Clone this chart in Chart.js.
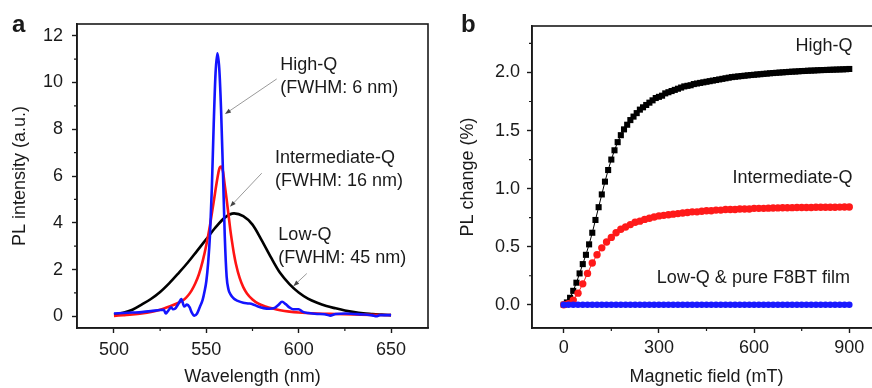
<!DOCTYPE html>
<html>
<head>
<meta charset="utf-8">
<script src="https://cdn.jsdelivr.net/npm/chart.js@4/dist/chart.umd.min.js"></script>
<style>
  html, body { margin: 0; padding: 0; background: #fff; overflow: hidden; width: 872px; height: 388px; }
  canvas { position: absolute; top: 0; }
  #specCanvas { left: 0; }
  #fieldCanvas { left: 440px; }
</style>
</head>
<body>
<canvas id="specCanvas" width="440" height="388"></canvas>
<canvas id="fieldCanvas" width="460" height="388"></canvas>
<script>
// ---- panel a : PL spectra ----
const lowQWl = [500, 505, 510, 515, 520, 525, 530, 535, 540, 545, 550, 555, 560, 565, 570, 575,
  580, 585, 590, 595, 600, 605, 610, 615, 620, 625, 630, 635, 640, 645, 650];
const lowQ = [0.08, 0.15, 0.28, 0.50, 0.74, 1.04, 1.42, 1.85, 2.30, 2.80, 3.30, 3.80, 4.22, 4.40, 4.28, 3.92,
  3.25, 2.52, 1.85, 1.38, 1.02, 0.76, 0.58, 0.44, 0.34, 0.25, 0.18, 0.13, 0.10, 0.07, 0.05];

const interQWl = [500, 505, 510, 515, 520, 525, 530, 535, 538, 540, 542, 544, 546, 548, 550, 552, 554, 556, 557,
  558, 559, 560, 561, 562, 563, 564, 565, 566, 568, 570, 572, 575, 578, 582, 586, 590, 595, 600, 610,
  620, 630, 640, 650];
const interQ = [0.02, 0.05, 0.08, 0.12, 0.18, 0.28, 0.42, 0.58, 0.72, 0.88, 1.10, 1.40, 1.80, 2.35, 3.05, 3.90, 4.90, 5.90, 6.30,
  6.40, 6.20, 5.60, 5.00, 4.35, 3.70, 3.15, 2.65, 2.25, 1.65, 1.25, 0.98, 0.72, 0.55, 0.42, 0.33, 0.26, 0.20, 0.16, 0.12,
  0.10, 0.08, 0.06, 0.05];

const highQWl = [500, 505, 510, 515, 520, 525, 527, 528, 529, 531, 532, 533, 535, 536.5, 538, 539.5, 541, 542, 543.5,
  545, 546.5, 548, 549, 550, 551, 552, 553, 554, 555, 556, 557, 558, 559, 560, 561, 562, 563, 565, 567, 570,
  573, 575, 578, 581, 584, 587, 589, 591, 593, 595, 597, 600, 602, 605, 610, 614, 617, 620, 625, 630, 635,
  640, 642, 644, 650];
const highQ = [0.12, 0.14, 0.16, 0.18, 0.22, 0.27, 0.28, 0.12, 0.20, 0.38, 0.30, 0.32, 0.55, 0.74, 0.42, 0.50, 0.38, 0.18, 0.03,
  0.12, 0.40, 0.70, 1.05, 1.50, 2.30, 3.50, 5.50, 8.20, 10.40, 11.25, 10.60, 8.80, 6.20, 3.40, 1.70, 1.15, 0.95, 0.75, 0.66, 0.58,
  0.55, 0.52, 0.42, 0.35, 0.32, 0.36, 0.48, 0.62, 0.52, 0.38, 0.30, 0.30, 0.20, 0.14, 0.10, 0.09, 0.03, 0.10, 0.12, 0.10, 0.08,
  0.04, 0.00, 0.05, 0.05];

const specXTicks = [500, 550, 600, 650];
const specXMinor = [525, 575, 625];
const specYTicks = [0, 2, 4, 6, 8, 10, 12];
const specYMinor = [1, 3, 5, 7, 9, 11];

// ---- panel b : magnetic field effect ----
const fieldHigh = [0, 10, 20, 30, 40, 50, 60, 70, 80, 90, 100, 110, 120, 130, 140, 150, 160, 170, 180, 190,
  200, 210, 220, 230, 240, 250, 260, 270, 280, 290, 300, 310, 320, 330, 340, 350, 360, 370, 380, 390,
  400, 410, 420, 430, 440, 450, 460, 470, 480, 490, 500, 510, 520, 530, 540, 550, 560, 570, 580, 590,
  600, 610, 620, 630, 640, 650, 660, 670, 680, 690, 700, 710, 720, 730, 740, 750, 760, 770, 780, 790,
  800, 810, 820, 830, 840, 850, 860, 870, 880, 890, 900];
const changeHigh = [0.00, 0.02, 0.06, 0.12, 0.19, 0.27, 0.35, 0.43, 0.52, 0.62, 0.73, 0.84, 0.95, 1.06, 1.16, 1.25, 1.33, 1.40, 1.46, 1.51,
  1.55, 1.59, 1.62, 1.65, 1.68, 1.70, 1.72, 1.74, 1.76, 1.78, 1.79, 1.80, 1.82, 1.83, 1.84, 1.85, 1.86, 1.87, 1.88, 1.885,
  1.89, 1.90, 1.905, 1.91, 1.915, 1.92, 1.925, 1.93, 1.935, 1.94, 1.945, 1.95, 1.955, 1.96, 1.963, 1.966, 1.969, 1.972, 1.975, 1.978,
  1.98, 1.983, 1.985, 1.988, 1.99, 1.993, 1.995, 1.997, 1.999, 2.001, 2.003, 2.005, 2.007, 2.008, 2.01, 2.012, 2.013, 2.015, 2.016, 2.017,
  2.019, 2.02, 2.021, 2.022, 2.023, 2.024, 2.025, 2.026, 2.027, 2.028, 2.03];

const fieldStep15 = [0, 15, 30, 45, 60, 75, 90, 105, 120, 135, 150, 165, 180, 195, 210, 225, 240, 255, 270, 285,
  300, 315, 330, 345, 360, 375, 390, 405, 420, 435, 450, 465, 480, 495, 510, 525, 540, 555, 570, 585,
  600, 615, 630, 645, 660, 675, 690, 705, 720, 735, 750, 765, 780, 795, 810, 825, 840, 855, 870, 885, 900];
const changeInter = [0.00, 0.01, 0.04, 0.10, 0.18, 0.27, 0.36, 0.43, 0.49, 0.54, 0.58, 0.62, 0.65, 0.67, 0.69, 0.71, 0.72, 0.735, 0.745, 0.755,
  0.765, 0.77, 0.775, 0.78, 0.785, 0.79, 0.795, 0.80, 0.80, 0.805, 0.81, 0.81, 0.815, 0.815, 0.82, 0.82, 0.82, 0.825, 0.825, 0.825,
  0.83, 0.83, 0.83, 0.832, 0.833, 0.834, 0.835, 0.835, 0.836, 0.837, 0.837, 0.838, 0.838, 0.839, 0.839, 0.84, 0.84, 0.84, 0.841, 0.842, 0.842];
const changeLow = [0, 0, 0, 0, 0, 0, 0, 0, 0, 0, 0, 0, 0, 0, 0, 0, 0, 0, 0, 0,
  0, 0, 0, 0, 0, 0, 0, 0, 0, 0, 0, 0, 0, 0, 0, 0, 0, 0, 0, 0,
  0, 0, 0, 0, 0, 0, 0, 0, 0, 0, 0, 0, 0, 0, 0, 0, 0, 0, 0, 0, 0];

const fieldXTicks = [0, 300, 600, 900];
const fieldXMinor = [150, 450, 750];
const fieldYTicks = [0, 0.5, 1, 1.5, 2];
const fieldYMinor = [0.25, 0.75, 1.25, 1.75, 2.25];

const FONT = '"Liberation Sans", Arial, Helvetica, sans-serif';
const INK = '#1a1a1a';

const toPoints = (xs, ys) => xs.map((x, i) => ({ x: x, y: ys[i] }));

// frame, minor ticks, panel letter and labels
const decorations = {
  id: 'decorations',
  afterDraw(chart, args, opts) {
    const { ctx, chartArea: a, scales } = chart;
    const px = (v) => scales.x.getPixelForValue(v);
    const py = (v) => scales.y.getPixelForValue(v);
    ctx.save();
    ctx.strokeStyle = INK;
    ctx.lineWidth = 1.6;
    ctx.strokeRect(a.left, a.top, a.right - a.left, a.bottom - a.top);

    ctx.lineWidth = 1.2;
    ctx.beginPath();
    opts.minorX.forEach((v) => { ctx.moveTo(px(v), a.bottom); ctx.lineTo(px(v), a.bottom + 3); });
    opts.minorY.forEach((v) => { ctx.moveTo(a.left, py(v)); ctx.lineTo(a.left - 3, py(v)); });
    ctx.stroke();

    ctx.fillStyle = INK;
    ctx.font = 'bold 24px ' + FONT;
    ctx.textAlign = 'left';
    ctx.textBaseline = 'alphabetic';
    ctx.fillText(opts.letter, opts.letterX, 32);

    // arrows
    (opts.arrows || []).forEach((ar) => {
      const x0 = px(ar.from[0]), y0 = py(ar.from[1]);
      const x1 = px(ar.to[0]), y1 = py(ar.to[1]);
      const ang = Math.atan2(y1 - y0, x1 - x0);
      ctx.strokeStyle = '#9a9a9a';
      ctx.lineWidth = 1;
      ctx.beginPath();
      ctx.moveTo(x0, y0);
      ctx.lineTo(x1 - 5 * Math.cos(ang), y1 - 5 * Math.sin(ang));
      ctx.stroke();
      ctx.fillStyle = '#444';
      ctx.beginPath();
      ctx.moveTo(x1, y1);
      ctx.lineTo(x1 - 6 * Math.cos(ang) + 2.2 * Math.sin(ang), y1 - 6 * Math.sin(ang) - 2.2 * Math.cos(ang));
      ctx.lineTo(x1 - 6 * Math.cos(ang) - 2.2 * Math.sin(ang), y1 - 6 * Math.sin(ang) + 2.2 * Math.cos(ang));
      ctx.closePath();
      ctx.fill();
    });

    ctx.fillStyle = INK;
    ctx.font = '18px ' + FONT;
    ctx.textBaseline = 'middle';
    (opts.notes || []).forEach((n) => {
      ctx.textAlign = n.align;
      n.lines.forEach((line, i) => ctx.fillText(line, px(n.at[0]), py(n.at[1]) + i * 22.5));
    });
    ctx.restore();
  }
};

function axis(min, max, ticks, title, size, fmt, pad) {
  return {
    type: 'linear',
    min: min,
    max: max,
    afterBuildTicks: (s) => { s.ticks = ticks.map((v) => ({ value: v })); },
    afterFit: (s) => { if (s.isHorizontal()) s.height = size; else s.width = size; },
    ticks: {
      font: { family: FONT, size: 18 },
      color: INK,
      padding: pad,
      autoSkip: false,
      maxRotation: 0,
      callback: fmt
    },
    grid: { drawOnChartArea: false, tickLength: 5, tickWidth: 1.4, tickColor: INK },
    border: { display: true, color: INK, width: 1.6 },
    title: { display: true, text: title, font: { family: FONT, size: 18 }, color: INK, padding: { top: 0, bottom: 0 } }
  };
}

const common = {
  responsive: false,
  animation: false,
  events: [],
  plugins: { legend: { display: false }, tooltip: { enabled: false } }
};

new Chart(document.getElementById('specCanvas'), {
  type: 'line',
  data: {
    datasets: [
      { data: toPoints(highQWl, highQ), borderColor: '#1414ff', borderWidth: 2.6, pointRadius: 0, cubicInterpolationMode: 'monotone' },
      { data: toPoints(interQWl, interQ), borderColor: '#ff1414', borderWidth: 2.6, pointRadius: 0, cubicInterpolationMode: 'monotone' },
      { data: toPoints(lowQWl, lowQ), borderColor: '#000000', borderWidth: 2.6, pointRadius: 0, cubicInterpolationMode: 'monotone' }
    ]
  },
  options: {
    ...common,
    layout: { padding: { left: 0, top: 24, right: 12, bottom: 0 } },
    scales: {
      x: axis(480, 670, specXTicks, 'Wavelength (nm)', 60, (v) => v, 6),
      y: (() => {
        const y = axis(-0.5, 12.5, specYTicks, 'PL intensity (a.u.)', 77, (v) => v, 9);
        y.title.padding = { top: 9, bottom: 0 };
        return y;
      })()
    },
    plugins: {
      ...common.plugins,
      decorations: {
        letter: 'a', letterX: 12, minorX: specXMinor, minorY: specYMinor,
        notes: [
          { lines: ['High-Q', '(FWHM: 6 nm)'], at: [590, 10.73], align: 'left' },
          { lines: ['Intermediate-Q', '(FWHM: 16 nm)'], at: [587.2, 6.76], align: 'left' },
          { lines: ['Low-Q', '(FWHM: 45 nm)'], at: [589, 3.47], align: 'left' }
        ],
        arrows: [
          { from: [588.1, 10.15], to: [560.1, 8.65] },
          { from: [580, 6.12], to: [562.8, 4.68] },
          { from: [604.4, 1.83], to: [597.1, 1.29] }
        ]
      }
    }
  },
  plugins: [decorations]
});

new Chart(document.getElementById('fieldCanvas'), {
  type: 'line',
  data: {
    datasets: [
      { data: toPoints(fieldStep15, changeLow), borderColor: '#1a1aff', borderWidth: 1, pointStyle: 'circle',
        pointRadius: 3.3, pointBackgroundColor: '#1a1aff', pointBorderWidth: 0 },
      { data: toPoints(fieldStep15, changeInter), borderColor: '#ff1a1a', borderWidth: 1, pointStyle: 'circle',
        pointRadius: 3.7, pointBackgroundColor: '#ff1a1a', pointBorderWidth: 0 },
      { data: toPoints(fieldHigh, changeHigh), borderColor: '#000000', borderWidth: 1, pointStyle: 'rect',
        pointRadius: 4.3, pointBackgroundColor: '#000000', pointBorderWidth: 0 }
    ]
  },
  options: {
    ...common,
    layout: { padding: { left: 0, top: 26, right: 19, bottom: 0 } },
    scales: {
      x: axis(-100, 1000, fieldXTicks, 'Magnetic field (mT)', 60, (v) => v, 4),
      y: (() => {
        const y = axis(-0.2, 2.4, fieldYTicks, 'PL change (%)', 92, (v) => v.toFixed(1), 7);
        y.title.padding = { top: 17, bottom: 0 };
        return y;
      })()
    },
    plugins: {
      ...common.plugins,
      decorations: {
        letter: 'b', letterX: 21, minorX: fieldXMinor, minorY: fieldYMinor,
        notes: [
          { lines: ['High-Q'], at: [910, 2.227], align: 'right' },
          { lines: ['Intermediate-Q'], at: [910, 1.089], align: 'right' },
          { lines: ['Low-Q & pure F8BT film'], at: [902, 0.23], align: 'right' }
        ]
      }
    }
  },
  plugins: [decorations]
});
</script>
</body>
</html>
